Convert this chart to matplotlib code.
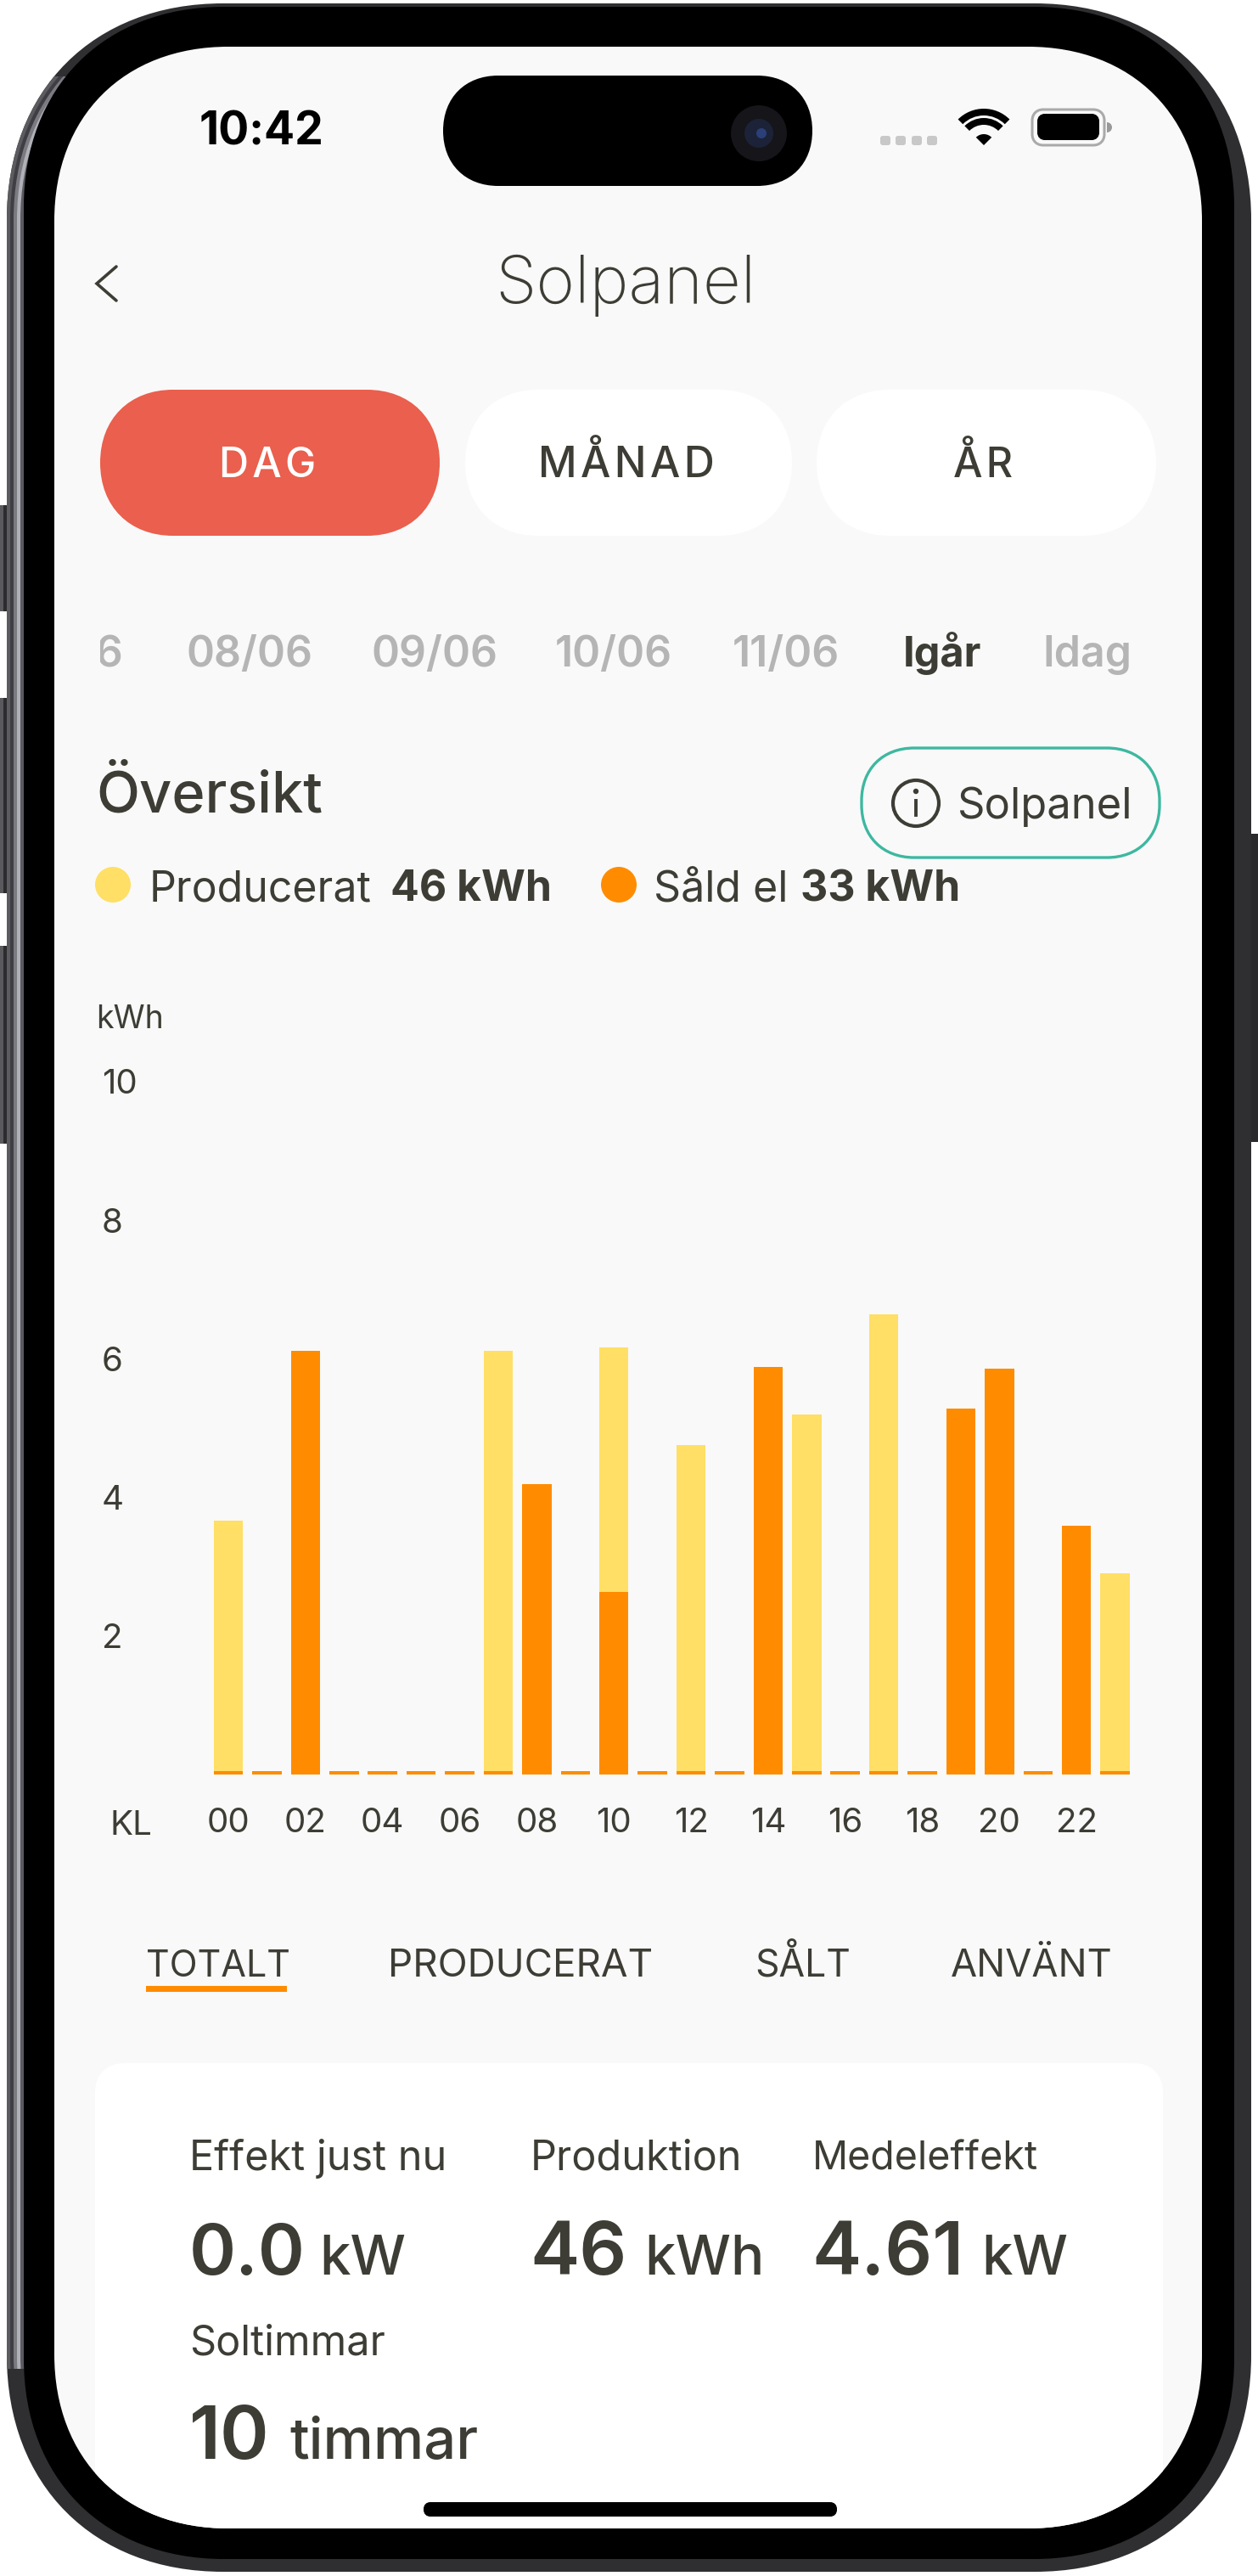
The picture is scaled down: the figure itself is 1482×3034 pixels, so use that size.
import matplotlib
matplotlib.use('Agg')
import matplotlib.pyplot as plt
from matplotlib.patches import Circle, PathPatch, Rectangle, Wedge
from matplotlib.path import Path

# Data
hours = list(range(24))
hour_ticks = hours[::2]
hour_labels = ['00', '02', '04', '06', '08', '10', '12', '14', '16', '18', '20', '22']
kwh_ticks = [2, 4, 6, 8, 10]
producerat = [3.66, 0, 0, 0, 0, 0, 0, 6.12, 0, 0, 6.17, 0,
              4.76, 0, 0, 5.19, 0, 6.64, 0, 0, 0, 0, 0, 2.91]
sald = [0.05, 0.05, 6.12, 0.05, 0.05, 0.05, 0.05, 0.05, 4.19, 0.05, 2.64, 0.05,
        0.05, 0.05, 5.88, 0.05, 0.05, 0.05, 0.05, 5.28, 5.86, 0.05, 3.59, 0.05]
dates = ['08/06', '09/06', '10/06', '11/06']
date_x = [220, 437, 654, 863]

W, H = 1482, 3034
BG = '#f9f9f9'
INK = '#3d3d35'
YELLOW = '#ffdf65'
ORANGE = '#ff8c00'
FONT = 'Inter'


def rrect(ax, x0, y0, x1, y1, r, k=0.6, **kw):
    kw.setdefault('lw', 0)
    c = r - k * r
    verts = [(x0 + r, y0), (x1 - r, y0),
             (x1 - c, y0), (x1, y0 + c), (x1, y0 + r),
             (x1, y1 - r),
             (x1, y1 - c), (x1 - c, y1), (x1 - r, y1),
             (x0 + r, y1),
             (x0 + c, y1), (x0, y1 - c), (x0, y1 - r),
             (x0, y0 + r),
             (x0, y0 + c), (x0 + c, y0), (x0 + r, y0),
             (x0 + r, y0)]
    codes = [Path.MOVETO, Path.LINETO,
             Path.CURVE4, Path.CURVE4, Path.CURVE4,
             Path.LINETO,
             Path.CURVE4, Path.CURVE4, Path.CURVE4,
             Path.LINETO,
             Path.CURVE4, Path.CURVE4, Path.CURVE4,
             Path.LINETO,
             Path.CURVE4, Path.CURVE4, Path.CURVE4,
             Path.CLOSEPOLY]
    p = PathPatch(Path(verts, codes), **kw)
    ax.add_patch(p)
    return p


def label(ax, x, y, s, size, weight='normal', color=INK, ha='left', va='baseline', **kw):
    return ax.text(x, y, s, fontsize=size, fontweight=weight, color=color,
                   ha=ha, va=va, family=FONT, **kw)


def draw_frame(ax):
    # Knappar pa sidorna
    for y0, y1 in [(595, 720), (822, 1052), (1114, 1347)]:
        ax.add_patch(Rectangle((0, y0), 12, y1 - y0, fc='#5a5a5e', lw=0))
        ax.add_patch(Rectangle((4, y0), 8, y1 - y0, fc='#2c2c2e', lw=0))
    ax.add_patch(Rectangle((1472, 982), 10, 363, fc='#2a2a2c', lw=0))

    rrect(ax, 8, 4, 1474, 3029, 255, fc='#2f2f32')

    # Ljus kant till vanster
    clip = Rectangle((0, 90), 130, 2700, transform=ax.transData)
    bands = [(0, '#5c5c60'), (4, '#3e3e44'), (8, '#7a7a80'), (12, '#b0b0b8'), (16, '#5a5a60')]
    for inset, col in bands:
        p = rrect(ax, 8 + inset, 4 + inset, 1474 - inset, 3029 - inset, 255 - inset, fc=col)
        p.set_clip_path(clip)

    rrect(ax, 28, 8, 1454, 3014, 236, fc='black')
    return rrect(ax, 64, 55, 1416, 2978, 205, fc=BG)


def draw_status(ax):
    rrect(ax, 522, 89, 957, 219, 65, fc='black')
    ax.add_patch(Circle((894, 157), 33, fc='#15151a', lw=0))
    ax.add_patch(Circle((894, 157), 17, fc='#1c2338', lw=0))
    ax.add_patch(Circle((897, 157), 6, fc='#2b3f78', lw=0))
    label(ax, 235, 170, '10:42', 38.5, 'bold', 'black')

    for x in [1037, 1055, 1074, 1092]:
        rrect(ax, x, 160, x + 12, 171, 3, fc='#c8c8c8')
    ax.add_patch(Wedge((1159, 171), 43, 225, 315, width=8, fc='black', lw=0))
    ax.add_patch(Wedge((1159, 171), 32, 225, 315, width=8, fc='black', lw=0))
    ax.add_patch(Wedge((1159, 171), 13, 225, 315, fc='black', lw=0))
    rrect(ax, 1216, 129, 1301, 171, 13, fc='none', ec='#aaaaaa', lw=2.2)
    rrect(ax, 1222, 134, 1295, 165, 9, fc='black')
    ax.add_patch(Wedge((1304, 150), 6, -90, 90, fc='#999999', lw=0))


def main() -> None:
    fig = plt.figure(figsize=(W / 100, H / 100), dpi=100, facecolor='white')
    ui = fig.add_axes([0, 0, 1, 1])
    ui.set_xlim(0, W)
    ui.set_ylim(H, 0)
    ui.axis('off')

    screen = draw_frame(ui)
    draw_status(ui)

    # Rubrik
    ui.plot([137, 114, 137], [314, 334, 354], color=INK, lw=2.6,
            solid_joinstyle='miter', solid_capstyle='round')
    label(ui, 737, 357, 'Solpanel', 56, 'light', ha='center')

    # Flikar
    rrect(ui, 118, 459, 518, 631, 86, fc='#ea5f4d')
    rrect(ui, 548, 459, 933, 631, 86, fc='white')
    rrect(ui, 962, 459, 1362, 631, 86, fc='white')
    hair = '\u200a'
    label(ui, 315, 562, hair.join('DAG'), 35, 'medium', 'white', ha='center')
    label(ui, 738, 562, hair.join('MÅNAD'), 36, 'medium', ha='center')
    label(ui, 1158, 562, hair.join('ÅR'), 35, 'medium', ha='center')

    # Datum
    t = label(ui, 145, 785, '07/06', 36, 'semibold', '#b5b5b5', ha='right')
    t.set_clip_path(Rectangle((118, 700), 100, 120, transform=ui.transData))
    t.set_clip_on(True)
    for x, d in zip(date_x, dates):
        label(ui, x, 785, d, 36, 'semibold', '#b5b5b5')
    label(ui, 1064, 785, 'Igår', 35, 'bold')
    label(ui, 1228, 785, 'Idag', 36, 'semibold', '#b5b5b5')

    # Oversikt
    label(ui, 113, 957, 'Översikt', 48, 'medium')
    rrect(ui, 1015, 881, 1366, 1010, 62, fc='none', ec='#3db8a0', lw=2.4)
    ui.add_patch(Circle((1079, 946), 27, fc='none', ec=INK, lw=3))
    ui.plot([1079, 1079], [943, 960], color=INK, lw=2.8)
    ui.add_patch(Circle((1079, 932), 3.2, fc=INK, lw=0))
    label(ui, 1128, 964, 'Solpanel', 36.5)

    ui.add_patch(Circle((133, 1042), 21, fc=YELLOW, lw=0))
    label(ui, 176, 1061, 'Producerat', 36)
    label(ui, 460, 1061, '46 kWh', 36, 'bold')
    ui.add_patch(Circle((729, 1042), 21, fc=ORANGE, lw=0))
    label(ui, 770, 1061, 'Såld el', 36)
    label(ui, 943, 1061, '33 kWh', 36, 'bold')

    # Diagram
    x_left, x_right = 246.3, 1336.3
    y_top, y_bottom = 1274.0, 2090.0
    ax = fig.add_axes([x_left / W, 1 - y_bottom / H,
                       (x_right - x_left) / W, (y_bottom - y_top) / H])
    ax.patch.set_alpha(0)
    ax.set_xlim(-0.5, 23.5)
    ax.set_ylim(0, 10)
    ax.bar(hours, producerat, width=0.76, color=YELLOW)
    ax.bar(hours, sald, width=0.76, color=ORANGE)
    for side in ax.spines.values():
        side.set_visible(False)
    ax.set_xticks(hour_ticks, hour_labels, family=FONT, fontsize=29, color=INK)
    ax.set_yticks(kwh_ticks, [str(v) for v in kwh_ticks], family=FONT, fontsize=29,
                  color=INK, ha='left')
    ax.tick_params(axis='x', length=0, pad=28)
    ax.tick_params(axis='y', length=0, pad=91)

    label(ui, 113, 1211, 'kWh', 27)
    label(ui, 154, 2161, 'KL', 29, ha='center')

    # Flikar under diagrammet
    label(ui, 172, 2328, 'TOTALT', 31)
    ui.add_patch(Rectangle((172, 2339), 166, 7, fc=ORANGE, lw=0))
    label(ui, 457, 2328, 'PRODUCERAT', 33)
    label(ui, 889, 2328, 'SÅLT', 32)
    label(ui, 1120, 2328, 'ANVÄNT', 32.5)

    # Kort med nyckeltal
    card = rrect(ui, 112, 2430, 1370, 3060, 34, fc='white')
    card.set_clip_path(screen)
    label(ui, 223, 2556, 'Effekt just nu', 35)
    label(ui, 625, 2556, 'Produktion', 35)
    label(ui, 957, 2556, 'Medeleffekt', 33.5)
    label(ui, 223, 2679, '0.0', 60, 'semibold')
    label(ui, 376, 2679, 'kW', 47, 'medium')
    label(ui, 624, 2679, '46', 63, 'semibold')
    label(ui, 759, 2679, 'kWh', 47, 'medium')
    label(ui, 956, 2679, '4.61', 63, 'semibold')
    label(ui, 1156, 2679, 'kW', 47, 'medium')
    label(ui, 223, 2773, 'Soltimmar', 35)
    label(ui, 223, 2896, '10', 63, 'semibold')
    label(ui, 341, 2896, 'timmar', 48, 'medium')

    rrect(ui, 499, 2947, 986, 2964, 8, fc='black')

    fig.savefig('out.png', dpi=100, facecolor='white')


if __name__ == '__main__':
    main()
